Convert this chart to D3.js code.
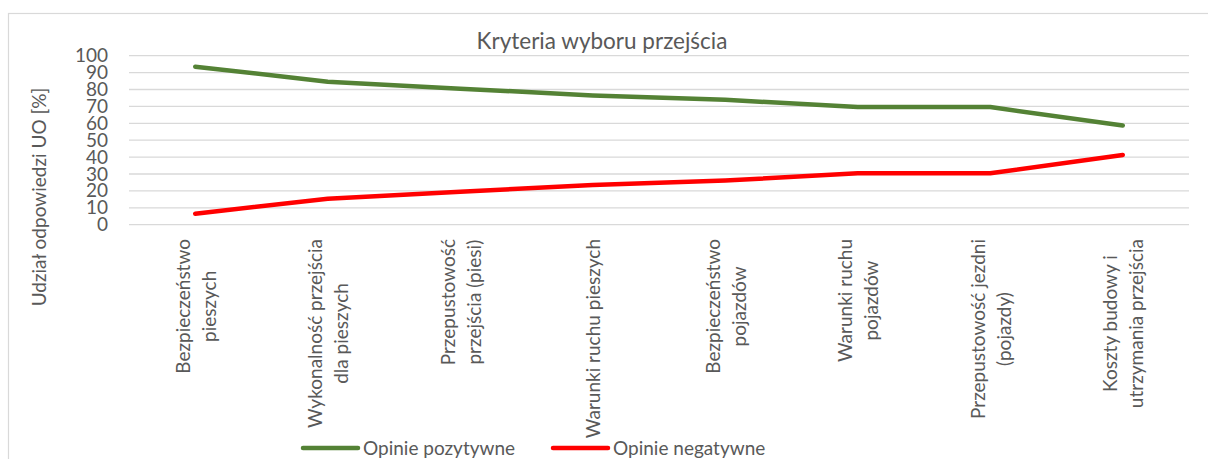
<!DOCTYPE html>
<html>
<head>
<meta charset="utf-8">
<script src="https://cdn.jsdelivr.net/npm/d3@7/dist/d3.min.js"></script>
<style>
  html, body { margin: 0; padding: 0; background: #fff; }
  svg { display: block; }
  text { font-family: Lato, "Open Sans", sans-serif; fill: #595959; }
</style>
</head>
<body>
<svg id="chart" width="1208" height="459"></svg>
<script>
// Criteria for choosing a crossing: share of answers (%)
const categories = [
  ["Bezpieczeństwo", "pieszych"],
  ["Wykonalność przejścia", "dla pieszych"],
  ["Przepustowość", "przejścia (piesi)"],
  ["Warunki ruchu pieszych"],
  ["Bezpieczeństwo", "pojazdów"],
  ["Warunki ruchu", "pojazdów"],
  ["Przepustowość jezdni", "(pojazdy)"],
  ["Koszty budowy i", "utrzymania przejścia"]
];
const positive = [93.5, 84.6, 80.5, 76.5, 73.9, 69.6, 69.6, 58.7];
const negative = [6.5, 15.4, 19.5, 23.5, 26.1, 30.4, 30.4, 41.3];
const yTicks = [0, 10, 20, 30, 40, 50, 60, 70, 80, 90, 100];
const seriesNames = ["Opinie pozytywne", "Opinie negatywne"];
const seriesColors = ["#548235", "#FF0000"];
const chartTitle = "Kryteria wyboru przejścia";
const yAxisTitle = "Udział odpowiedzi UO [%]";

const svg = d3.select("#chart");

// outer chart frame
svg.append("rect")
  .attr("x", 8.5).attr("y", 13.5)
  .attr("width", 1240).attr("height", 500)
  .attr("fill", "none").attr("stroke", "#d9d9d9").attr("stroke-width", 1.2);

const plot = { left: 129, right: 1189, top: 55.7, bottom: 224.7 };

const x = d3.scaleBand()
  .domain(d3.range(categories.length))
  .range([plot.left, plot.right]);
const y = d3.scaleLinear().domain([0, 100]).range([plot.bottom, plot.top]);

// horizontal gridlines
svg.append("g")
  .selectAll("line")
  .data(yTicks)
  .join("line")
  .attr("x1", plot.left).attr("x2", plot.right)
  .attr("y1", d => y(d)).attr("y2", d => y(d))
  .attr("stroke", "#d9d9d9").attr("stroke-width", 1.3);

// y axis tick labels
const yAxis = d3.axisLeft(y).tickValues(yTicks).tickSize(0).tickPadding(0);
const yg = svg.append("g").attr("transform", `translate(${plot.left - 21},0)`).call(yAxis);
yg.select(".domain").remove();
yg.selectAll("text")
  .attr("font-family", "Lato, sans-serif")
  .attr("font-size", 19)
  .attr("fill", "#595959");

// y axis title
svg.append("text")
  .attr("transform", "translate(46,197) rotate(-90)")
  .attr("text-anchor", "middle")
  .attr("font-size", 19)
  .text(yAxisTitle);

// chart title
svg.append("text")
  .attr("x", 602).attr("y", 49)
  .attr("text-anchor", "middle")
  .attr("font-size", 22.5)
  .text(chartTitle);

// category labels, rotated, lines centred on each other
const cats = svg.append("g");
categories.forEach((lines, i) => {
  const cx = x(i) + x.bandwidth() / 2;
  const g = cats.append("g").attr("transform", `translate(${cx},239) rotate(-90)`);
  const texts = lines.map((ln, k) => g.append("text")
    .attr("font-size", 19)
    .attr("text-anchor", "middle")
    .attr("y", (k - (lines.length - 1) / 2) * 26 + 1)
    .attr("dy", "0.35em")
    .text(ln));
  const maxLen = d3.max(texts, t => t.node().getComputedTextLength());
  texts.forEach(t => t.attr("x", -maxLen / 2));
});

// series lines
const line = d3.line()
  .x((d, i) => x(i) + x.bandwidth() / 2)
  .y(d => y(d));

[positive, negative].forEach((vals, s) => {
  svg.append("path")
    .datum(vals)
    .attr("d", line)
    .attr("fill", "none")
    .attr("stroke", seriesColors[s])
    .attr("stroke-width", 4.5)
    .attr("stroke-linecap", "round")
    .attr("stroke-linejoin", "round");
});

// legend
const legendItems = [
  { x1: 303, x2: 358, tx: 363 },
  { x1: 553, x2: 608, tx: 613 }
];
legendItems.forEach((it, s) => {
  svg.append("line")
    .attr("x1", it.x1).attr("x2", it.x2)
    .attr("y1", 448).attr("y2", 448)
    .attr("stroke", seriesColors[s])
    .attr("stroke-width", 4.5)
    .attr("stroke-linecap", "round");
  svg.append("text")
    .attr("x", it.tx).attr("y", 448)
    .attr("dy", "0.35em")
    .attr("font-size", 19)
    .text(seriesNames[s]);
});
</script>
</body>
</html>
